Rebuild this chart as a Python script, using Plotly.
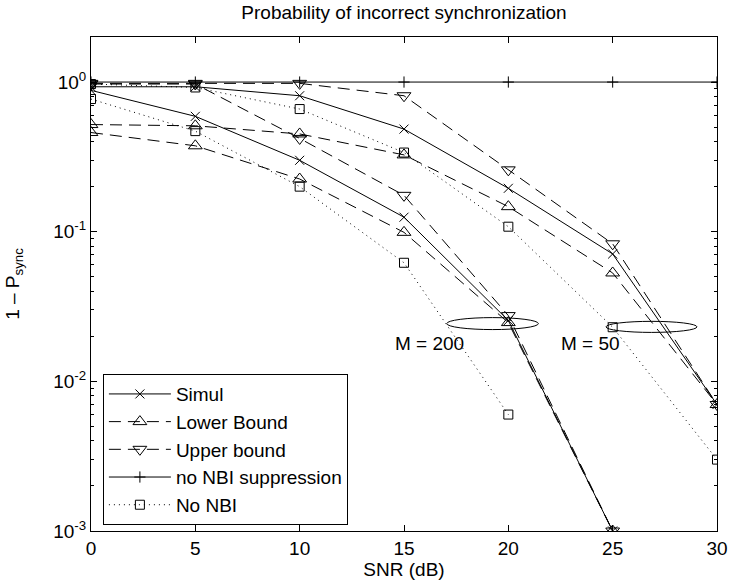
import plotly.graph_objects as go
import math

# ---------------- data ----------------
snr = [0, 5, 10, 15, 20, 25, 30]
snr_m200 = [0, 5, 10, 15, 20, 25]
snr_nonbi_m200 = [0, 5, 10, 15, 20]

# M = 200 group
simul_m200 = [0.88, 0.59, 0.30, 0.125, 0.0255, 0.001]
lower_m200 = [0.46, 0.375, 0.225, 0.099, 0.0247, 0.001]
upper_m200 = [0.97, 0.97, 0.42, 0.175, 0.0275, 0.001]
nonbi_m200 = [0.77, 0.47, 0.20, 0.062, 0.006]

# M = 50 group
simul_m50 = [0.93, 0.93, 0.81, 0.485, 0.195, 0.071, 0.007]
lower_m50 = [0.52, 0.51, 0.45, 0.326, 0.147, 0.053, 0.007]
upper_m50 = [0.98, 0.98, 0.98, 0.81, 0.259, 0.083, 0.007]
nonbi_m50 = [0.97, 0.92, 0.66, 0.338, 0.108, 0.023, 0.003]

# no NBI suppression
no_supp = [1.0, 1.0, 1.0, 1.0, 1.0, 1.0, 1.0]

x_ticks = [0, 5, 10, 15, 20, 25, 30]
y_ticks = [1e-3, 1e-2, 1e-1, 1]
y_ticktext = ["10<sup>-3</sup>", "10<sup>-2</sup>", "10<sup>-1</sup>", "10<sup>0</sup>"]
y_minor = [m * 10.0 ** e for e in (-3, -2, -1, 0) for m in range(2, 10) if m * 10.0 ** e <= 2]

Y_LOG_MIN, Y_LOG_MAX = -3, math.log10(2)

FONT = "Arial, Liberation Sans, Helvetica, sans-serif"
FS = 19
DASH = "12px,7px"
DOT = "1px,4px"

fig = go.Figure()

def add(x, y, name, dash, symbol, size, show):
    fig.add_trace(go.Scatter(
        x=x, y=y, name=name, mode="lines+markers", legendgroup=name, showlegend=show,
        line=dict(color="black", width=1, dash=dash),
        marker=dict(symbol=symbol, size=size, color="black",
                    line=dict(color="black", width=1)),
    ))

add(snr_m200, simul_m200, "Simul", "solid", "x-thin-open", 9, True)
add(snr_m200, lower_m200, "Lower Bound", DASH, "triangle-up-open", 12, True)
add(snr_m200, upper_m200, "Upper bound", DASH, "triangle-down-open", 12, True)
add(snr, no_supp, "no NBI suppression", "solid", "cross-thin-open", 8, True)
add(snr_nonbi_m200, nonbi_m200, "No NBI", DOT, "square-open", 9, True)

add(snr, simul_m50, "Simul", "solid", "x-thin-open", 9, False)
add(snr, lower_m50, "Lower Bound", DASH, "triangle-up-open", 12, False)
add(snr, upper_m50, "Upper bound", DASH, "triangle-down-open", 12, False)
add(snr, nonbi_m50, "No NBI", DOT, "square-open", 9, False)

# ellipses marking the groups (x in data units, y in log decades)
ellipses = [
    dict(x0=17.05, x1=21.44, yc=-1.614, hh=0.040),
    dict(x0=24.68, x1=29.04, yc=-1.636, hh=0.037),
]
def to_paper(lv):
    return (lv - Y_LOG_MIN) / (Y_LOG_MAX - Y_LOG_MIN)
for e in ellipses:
    fig.add_shape(type="circle", xref="x", yref="paper",
                  x0=e["x0"], x1=e["x1"],
                  y0=to_paper(e["yc"] - e["hh"]), y1=to_paper(e["yc"] + e["hh"]),
                  line=dict(color="black", width=1))

labels = [("M = 200", 16.2, -1.748), ("M = 50", 23.93, -1.748)]
for t, xv, lv in labels:
    fig.add_annotation(x=xv, y=lv, xref="x", yref="y", text=t, showarrow=False,
                       font=dict(size=FS, color="black", family=FONT))

axis_common = dict(showline=True, linecolor="black", linewidth=1, mirror="ticks",
                   ticks="inside", ticklen=6, tickcolor="black", tickwidth=1,
                   showgrid=False, zeroline=False,
                   tickfont=dict(size=FS, color="black", family=FONT))

fig.update_xaxes(range=[0, 30], tickmode="array", tickvals=x_ticks,
                 title=dict(text="SNR (dB)", font=dict(size=FS, color="black", family=FONT), standoff=3),
                 **axis_common)
fig.update_yaxes(type="log", range=[Y_LOG_MIN, Y_LOG_MAX], tickmode="array",
                 tickvals=y_ticks, ticktext=y_ticktext,
                 minor=dict(tickmode="array", tickvals=y_minor, ticks="inside", ticklen=3,
                            tickcolor="black", tickwidth=1, showgrid=False),
                 title=dict(text="1 – P<sub>sync</sub>", font=dict(size=FS, color="black", family=FONT), standoff=28),
                 **axis_common)

fig.update_layout(
    width=730, height=583,
    margin=dict(l=91, r=13, t=37, b=52, autoexpand=False),
    paper_bgcolor="white", plot_bgcolor="white",
    font=dict(family=FONT, size=FS, color="black"),
    title=dict(text="Probability of incorrect synchronization", x=(91 + 717) / 2 / 730,
               xanchor="center", y=1 - 12 / 583, yanchor="middle",
               font=dict(size=FS, color="black", family=FONT)),
    legend=dict(x=0.019, y=0.012, xanchor="left", yanchor="bottom",
                bgcolor="white", bordercolor="black", borderwidth=1,
                font=dict(size=FS, color="black", family=FONT),
                itemwidth=62, tracegroupgap=0),
)

fig.write_html("out.html")
